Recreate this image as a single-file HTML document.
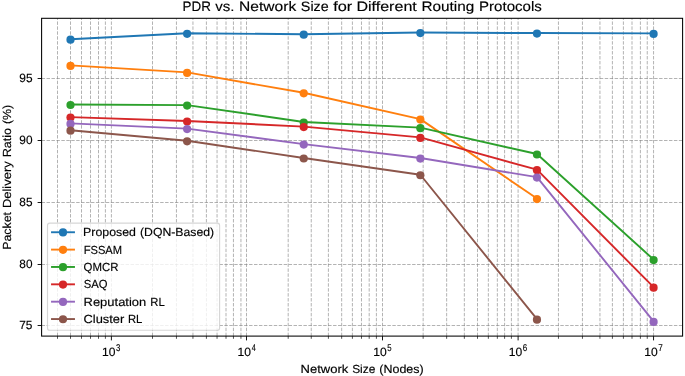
<!DOCTYPE html>
<html><head><meta charset="utf-8"><title>PDR vs. Network Size</title>
<style>html,body{margin:0;padding:0;background:#fff;}svg{display:block;will-change:transform;}text{font-family:"Liberation Sans",sans-serif;fill:#000;stroke:#000;stroke-width:0.15px;text-rendering:geometricPrecision;}</style></head>
<body>
<svg width="685" height="376" viewBox="0 0 685 376">
<rect x="0" y="0" width="685" height="376" fill="#ffffff"/>
<g stroke="#808080" stroke-opacity="0.66" stroke-width="0.91" stroke-dasharray="3.45 1.49" fill="none"><line x1="57.50" y1="336.1" x2="57.50" y2="18.3"/><line x1="70.50" y1="336.1" x2="70.50" y2="18.3"/><line x1="81.50" y1="336.1" x2="81.50" y2="18.3"/><line x1="90.50" y1="336.1" x2="90.50" y2="18.3"/><line x1="98.50" y1="336.1" x2="98.50" y2="18.3"/><line x1="105.40" y1="336.1" x2="105.40" y2="18.3"/><line x1="111.40" y1="336.1" x2="111.40" y2="18.3"/><line x1="152.50" y1="336.1" x2="152.50" y2="18.3"/><line x1="176.45" y1="336.1" x2="176.45" y2="18.3"/><line x1="192.95" y1="336.1" x2="192.95" y2="18.3"/><line x1="206.40" y1="336.1" x2="206.40" y2="18.3"/><line x1="217.05" y1="336.1" x2="217.05" y2="18.3"/><line x1="226.00" y1="336.1" x2="226.00" y2="18.3"/><line x1="233.45" y1="336.1" x2="233.45" y2="18.3"/><line x1="240.95" y1="336.1" x2="240.95" y2="18.3"/><line x1="246.50" y1="336.1" x2="246.50" y2="18.3"/><line x1="288.20" y1="336.1" x2="288.20" y2="18.3"/><line x1="311.25" y1="336.1" x2="311.25" y2="18.3"/><line x1="328.40" y1="336.1" x2="328.40" y2="18.3"/><line x1="341.67" y1="336.1" x2="341.67" y2="18.3"/><line x1="352.40" y1="336.1" x2="352.40" y2="18.3"/><line x1="361.47" y1="336.1" x2="361.47" y2="18.3"/><line x1="369.20" y1="336.1" x2="369.20" y2="18.3"/><line x1="376.40" y1="336.1" x2="376.40" y2="18.3"/><line x1="382.50" y1="336.1" x2="382.50" y2="18.3"/><line x1="423.15" y1="336.1" x2="423.15" y2="18.3"/><line x1="446.65" y1="336.1" x2="446.65" y2="18.3"/><line x1="464.35" y1="336.1" x2="464.35" y2="18.3"/><line x1="477.50" y1="336.1" x2="477.50" y2="18.3"/><line x1="488.35" y1="336.1" x2="488.35" y2="18.3"/><line x1="497.35" y1="336.1" x2="497.35" y2="18.3"/><line x1="504.60" y1="336.1" x2="504.60" y2="18.3"/><line x1="511.40" y1="336.1" x2="511.40" y2="18.3"/><line x1="518.10" y1="336.1" x2="518.10" y2="18.3"/><line x1="558.45" y1="336.1" x2="558.45" y2="18.3"/><line x1="582.45" y1="336.1" x2="582.45" y2="18.3"/><line x1="599.95" y1="336.1" x2="599.95" y2="18.3"/><line x1="612.40" y1="336.1" x2="612.40" y2="18.3"/><line x1="623.40" y1="336.1" x2="623.40" y2="18.3"/><line x1="632.00" y1="336.1" x2="632.00" y2="18.3"/><line x1="640.40" y1="336.1" x2="640.40" y2="18.3"/><line x1="647.25" y1="336.1" x2="647.25" y2="18.3"/><line x1="653.55" y1="336.1" x2="653.55" y2="18.3"/><line x1="41.6" y1="325.50" x2="682.6" y2="325.50"/><line x1="41.6" y1="264.50" x2="682.6" y2="264.50"/><line x1="41.6" y1="202.50" x2="682.6" y2="202.50"/><line x1="41.6" y1="140.50" x2="682.6" y2="140.50"/><line x1="41.6" y1="78.50" x2="682.6" y2="78.50"/></g>
<g stroke="#000" stroke-width="0.91"><line x1="111.40" y1="336.1" x2="111.40" y2="340.40"/><line x1="246.50" y1="336.1" x2="246.50" y2="340.40"/><line x1="382.50" y1="336.1" x2="382.50" y2="340.40"/><line x1="518.10" y1="336.1" x2="518.10" y2="340.40"/><line x1="653.55" y1="336.1" x2="653.55" y2="340.40"/><line x1="41.6" y1="325.50" x2="37.62" y2="325.50"/><line x1="41.6" y1="264.50" x2="37.62" y2="264.50"/><line x1="41.6" y1="202.50" x2="37.62" y2="202.50"/><line x1="41.6" y1="140.50" x2="37.62" y2="140.50"/><line x1="41.6" y1="78.50" x2="37.62" y2="78.50"/></g>
<g stroke="#000" stroke-width="0.68"><line x1="57.50" y1="336.1" x2="57.50" y2="338.80"/><line x1="70.50" y1="336.1" x2="70.50" y2="338.80"/><line x1="81.50" y1="336.1" x2="81.50" y2="338.80"/><line x1="90.50" y1="336.1" x2="90.50" y2="338.80"/><line x1="98.50" y1="336.1" x2="98.50" y2="338.80"/><line x1="105.40" y1="336.1" x2="105.40" y2="338.80"/><line x1="152.50" y1="336.1" x2="152.50" y2="338.80"/><line x1="176.45" y1="336.1" x2="176.45" y2="338.80"/><line x1="192.95" y1="336.1" x2="192.95" y2="338.80"/><line x1="206.40" y1="336.1" x2="206.40" y2="338.80"/><line x1="217.05" y1="336.1" x2="217.05" y2="338.80"/><line x1="226.00" y1="336.1" x2="226.00" y2="338.80"/><line x1="233.45" y1="336.1" x2="233.45" y2="338.80"/><line x1="240.95" y1="336.1" x2="240.95" y2="338.80"/><line x1="288.20" y1="336.1" x2="288.20" y2="338.80"/><line x1="311.25" y1="336.1" x2="311.25" y2="338.80"/><line x1="328.40" y1="336.1" x2="328.40" y2="338.80"/><line x1="341.67" y1="336.1" x2="341.67" y2="338.80"/><line x1="352.40" y1="336.1" x2="352.40" y2="338.80"/><line x1="361.47" y1="336.1" x2="361.47" y2="338.80"/><line x1="369.20" y1="336.1" x2="369.20" y2="338.80"/><line x1="376.40" y1="336.1" x2="376.40" y2="338.80"/><line x1="423.15" y1="336.1" x2="423.15" y2="338.80"/><line x1="446.65" y1="336.1" x2="446.65" y2="338.80"/><line x1="464.35" y1="336.1" x2="464.35" y2="338.80"/><line x1="477.50" y1="336.1" x2="477.50" y2="338.80"/><line x1="488.35" y1="336.1" x2="488.35" y2="338.80"/><line x1="497.35" y1="336.1" x2="497.35" y2="338.80"/><line x1="504.60" y1="336.1" x2="504.60" y2="338.80"/><line x1="511.40" y1="336.1" x2="511.40" y2="338.80"/><line x1="558.45" y1="336.1" x2="558.45" y2="338.80"/><line x1="582.45" y1="336.1" x2="582.45" y2="338.80"/><line x1="599.95" y1="336.1" x2="599.95" y2="338.80"/><line x1="612.40" y1="336.1" x2="612.40" y2="338.80"/><line x1="623.40" y1="336.1" x2="623.40" y2="338.80"/><line x1="632.00" y1="336.1" x2="632.00" y2="338.80"/><line x1="640.40" y1="336.1" x2="640.40" y2="338.80"/><line x1="647.25" y1="336.1" x2="647.25" y2="338.80"/></g>
<polyline points="70.50,39.20 187.12,33.30 303.74,34.20 420.35,32.55 536.97,33.05 653.59,33.40" fill="none" stroke="#1f77b4" stroke-width="1.90" stroke-linejoin="round" stroke-linecap="butt"/>
<g fill="#1f77b4"><circle cx="70.50" cy="39.70" r="4.10"/><circle cx="187.12" cy="33.80" r="4.10"/><circle cx="303.74" cy="34.70" r="4.10"/><circle cx="420.35" cy="33.05" r="4.10"/><circle cx="536.97" cy="33.55" r="4.10"/><circle cx="653.59" cy="33.90" r="4.10"/></g>
<polyline points="70.50,65.40 187.12,72.40 303.74,92.80 420.35,119.10 536.97,198.55" fill="none" stroke="#ff7f0e" stroke-width="1.90" stroke-linejoin="round" stroke-linecap="butt"/>
<g fill="#ff7f0e"><circle cx="70.50" cy="65.90" r="4.10"/><circle cx="187.12" cy="72.90" r="4.10"/><circle cx="303.74" cy="93.30" r="4.10"/><circle cx="420.35" cy="119.60" r="4.10"/><circle cx="536.97" cy="199.05" r="4.10"/></g>
<polyline points="70.50,104.50 187.12,105.10 303.74,122.00 420.35,127.65 536.97,154.00 653.59,259.55" fill="none" stroke="#2ca02c" stroke-width="1.90" stroke-linejoin="round" stroke-linecap="butt"/>
<g fill="#2ca02c"><circle cx="70.50" cy="105.00" r="4.10"/><circle cx="187.12" cy="105.60" r="4.10"/><circle cx="303.74" cy="122.50" r="4.10"/><circle cx="420.35" cy="128.15" r="4.10"/><circle cx="536.97" cy="154.50" r="4.10"/><circle cx="653.59" cy="260.05" r="4.10"/></g>
<polyline points="70.50,117.10 187.12,121.00 303.74,126.60 420.35,137.40 536.97,169.70 653.59,287.15" fill="none" stroke="#d62728" stroke-width="1.90" stroke-linejoin="round" stroke-linecap="butt"/>
<g fill="#d62728"><circle cx="70.50" cy="117.60" r="4.10"/><circle cx="187.12" cy="121.50" r="4.10"/><circle cx="303.74" cy="127.10" r="4.10"/><circle cx="420.35" cy="137.90" r="4.10"/><circle cx="536.97" cy="170.20" r="4.10"/><circle cx="653.59" cy="287.65" r="4.10"/></g>
<polyline points="70.50,123.40 187.12,128.60 303.74,144.10 420.35,158.05 536.97,177.10 653.59,321.45" fill="none" stroke="#9467bd" stroke-width="1.90" stroke-linejoin="round" stroke-linecap="butt"/>
<g fill="#9467bd"><circle cx="70.50" cy="123.90" r="4.10"/><circle cx="187.12" cy="129.10" r="4.10"/><circle cx="303.74" cy="144.60" r="4.10"/><circle cx="420.35" cy="158.55" r="4.10"/><circle cx="536.97" cy="177.60" r="4.10"/><circle cx="653.59" cy="321.95" r="4.10"/></g>
<polyline points="70.50,130.20 187.12,140.80 303.74,158.00 420.35,174.75 536.97,319.15" fill="none" stroke="#8c564b" stroke-width="1.90" stroke-linejoin="round" stroke-linecap="butt"/>
<g fill="#8c564b"><circle cx="70.50" cy="130.70" r="4.10"/><circle cx="187.12" cy="141.30" r="4.10"/><circle cx="303.74" cy="158.50" r="4.10"/><circle cx="420.35" cy="175.25" r="4.10"/><circle cx="536.97" cy="319.65" r="4.10"/></g>
<rect x="41.6" y="18.3" width="641.00" height="317.80" fill="none" stroke="#000" stroke-width="1.05"/>
<text x="182.51" y="10.85" font-size="13.65" textLength="28.35" lengthAdjust="spacingAndGlyphs">PDR</text><text x="215.35" y="10.85" font-size="13.65" textLength="19.16" lengthAdjust="spacingAndGlyphs">vs.</text><text x="239.05" y="10.85" font-size="13.65" textLength="57.15" lengthAdjust="spacingAndGlyphs">Network</text><text x="300.89" y="10.85" font-size="13.65" textLength="27.81" lengthAdjust="spacingAndGlyphs">Size</text><text x="333.24" y="10.85" font-size="13.65" textLength="19.05" lengthAdjust="spacingAndGlyphs">for</text><text x="356.42" y="10.85" font-size="13.65" textLength="60.39" lengthAdjust="spacingAndGlyphs">Different</text><text x="421.47" y="10.85" font-size="13.65" textLength="52.87" lengthAdjust="spacingAndGlyphs">Routing</text><text x="479.07" y="10.85" font-size="13.65" textLength="62.74" lengthAdjust="spacingAndGlyphs">Protocols</text>
<text x="300.58" y="372.50" font-size="11.72" textLength="47.69" lengthAdjust="spacingAndGlyphs">Network</text><text x="352.17" y="372.50" font-size="11.72" textLength="23.21" lengthAdjust="spacingAndGlyphs">Size</text><text x="379.31" y="372.50" font-size="11.72" textLength="44.35" lengthAdjust="spacingAndGlyphs">(Nodes)</text>
<g transform="translate(11.1,177.25) rotate(-90)"><text x="-72.60" y="0.00" font-size="11.72" textLength="37.86" lengthAdjust="spacingAndGlyphs">Packet</text><text x="-30.88" y="0.00" font-size="11.72" textLength="46.87" lengthAdjust="spacingAndGlyphs">Delivery</text><text x="20.01" y="0.00" font-size="11.72" textLength="29.28" lengthAdjust="spacingAndGlyphs">Ratio</text><text x="53.21" y="0.00" font-size="11.72" textLength="19.27" lengthAdjust="spacingAndGlyphs">(%)</text></g>
<text x="19.24" y="329.45" font-size="12.00" textLength="13.26" lengthAdjust="spacingAndGlyphs">75</text>
<text x="19.34" y="268.45" font-size="12.00" textLength="13.12" lengthAdjust="spacingAndGlyphs">80</text>
<text x="19.34" y="206.45" font-size="12.00" textLength="13.16" lengthAdjust="spacingAndGlyphs">85</text>
<text x="19.30" y="144.45" font-size="12.00" textLength="13.17" lengthAdjust="spacingAndGlyphs">90</text>
<text x="19.29" y="82.45" font-size="12.00" textLength="13.21" lengthAdjust="spacingAndGlyphs">95</text>
<text x="102.04" y="355.60" font-size="12.00" textLength="13.44" lengthAdjust="spacingAndGlyphs">10</text>
<text x="116.11" y="351.40" font-size="9.80" textLength="4.34" lengthAdjust="spacingAndGlyphs">3</text>
<text x="237.61" y="355.60" font-size="12.00" textLength="13.44" lengthAdjust="spacingAndGlyphs">10</text>
<text x="251.81" y="351.40" font-size="9.80" textLength="4.08" lengthAdjust="spacingAndGlyphs">4</text>
<text x="373.18" y="355.60" font-size="12.00" textLength="13.44" lengthAdjust="spacingAndGlyphs">10</text>
<text x="387.24" y="351.40" font-size="9.80" textLength="4.34" lengthAdjust="spacingAndGlyphs">5</text>
<text x="508.75" y="355.60" font-size="12.00" textLength="13.44" lengthAdjust="spacingAndGlyphs">10</text>
<text x="522.71" y="351.40" font-size="9.80" textLength="4.46" lengthAdjust="spacingAndGlyphs">6</text>
<text x="644.32" y="355.60" font-size="12.00" textLength="13.44" lengthAdjust="spacingAndGlyphs">10</text>
<text x="658.27" y="351.40" font-size="9.80" textLength="4.53" lengthAdjust="spacingAndGlyphs">7</text>
<rect x="47.5" y="223.1" width="172.10" height="107.20" rx="2.28" fill="#fff" fill-opacity="0.8" stroke="#ccc" stroke-opacity="0.8" stroke-width="1.14"/>
<line x1="51.05" y1="232.25" x2="74.95" y2="232.25" stroke="#1f77b4" stroke-width="1.90" stroke-linecap="butt"/>
<circle cx="63.0" cy="232.45" r="4.10" fill="#1f77b4"/>
<text x="83.11" y="236.25" font-size="11.72" textLength="52.77" lengthAdjust="spacingAndGlyphs">Proposed</text><text x="139.98" y="236.25" font-size="11.72" textLength="74.10" lengthAdjust="spacingAndGlyphs">(DQN-Based)</text>
<line x1="51.05" y1="249.61" x2="74.95" y2="249.61" stroke="#ff7f0e" stroke-width="1.90" stroke-linecap="butt"/>
<circle cx="63.0" cy="249.81" r="4.10" fill="#ff7f0e"/>
<text x="83.71" y="253.61" font-size="11.72" textLength="38.39" lengthAdjust="spacingAndGlyphs">FSSAM</text>
<line x1="51.05" y1="266.97" x2="74.95" y2="266.97" stroke="#2ca02c" stroke-width="1.90" stroke-linecap="butt"/>
<circle cx="63.0" cy="267.17" r="4.10" fill="#2ca02c"/>
<text x="83.60" y="270.97" font-size="11.72" textLength="34.91" lengthAdjust="spacingAndGlyphs">QMCR</text>
<line x1="51.05" y1="284.33" x2="74.95" y2="284.33" stroke="#d62728" stroke-width="1.90" stroke-linecap="butt"/>
<circle cx="63.0" cy="284.53" r="4.10" fill="#d62728"/>
<text x="83.74" y="288.33" font-size="11.72" textLength="23.74" lengthAdjust="spacingAndGlyphs">SAQ</text>
<line x1="51.05" y1="301.69" x2="74.95" y2="301.69" stroke="#9467bd" stroke-width="1.90" stroke-linecap="butt"/>
<circle cx="63.0" cy="301.89" r="4.10" fill="#9467bd"/>
<text x="83.56" y="305.69" font-size="11.72" textLength="62.72" lengthAdjust="spacingAndGlyphs">Reputation</text><text x="150.24" y="305.69" font-size="11.72" textLength="14.44" lengthAdjust="spacingAndGlyphs">RL</text>
<line x1="51.05" y1="319.05" x2="74.95" y2="319.05" stroke="#8c564b" stroke-width="1.90" stroke-linecap="butt"/>
<circle cx="63.0" cy="319.25" r="4.10" fill="#8c564b"/>
<text x="83.49" y="323.05" font-size="11.72" textLength="40.83" lengthAdjust="spacingAndGlyphs">Cluster</text><text x="127.94" y="323.05" font-size="11.72" textLength="14.44" lengthAdjust="spacingAndGlyphs">RL</text>
</svg>
</body></html>
